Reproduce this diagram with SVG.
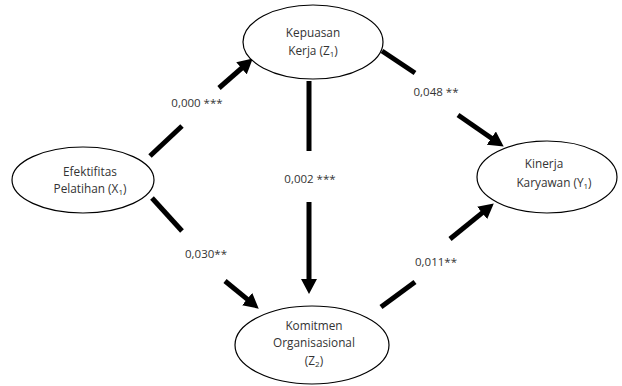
<svg xmlns="http://www.w3.org/2000/svg" width="622" height="386" viewBox="0 0 622 386">
<defs>
<style>
.node ellipse{fill:#fff;stroke:#000;stroke-width:1.2}
text{font-family:"Open Sans","Liberation Sans",sans-serif;font-size:11.8px;fill:#333;text-anchor:middle}
.sub{font-size:8px}
.lbl{font-size:11.5px}
#connectors line{stroke:#000;stroke-width:5;stroke-linecap:butt}
</style>
<marker id="ah" markerUnits="userSpaceOnUse" markerWidth="15" markerHeight="16" viewBox="0 0 15 16" refX="2" refY="8" orient="auto">
<path d="M0,0 L15,8 L0,16 z" fill="#000"/>
</marker>
</defs>
<rect width="622" height="386" fill="#fff"/>
<g id="connectors">
<line x1="150" y1="156" x2="182" y2="126"/>
<line x1="219" y1="88" x2="243" y2="67" marker-end="url(#ah)"/>
<line x1="152" y1="198" x2="182" y2="231"/>
<line x1="225" y1="281" x2="248.7" y2="300.4" marker-end="url(#ah)"/>
<line x1="309" y1="81" x2="309" y2="151"/>
<line x1="309" y1="202" x2="309" y2="281" marker-end="url(#ah)"/>
<line x1="382" y1="51" x2="415" y2="73"/>
<line x1="458" y1="115" x2="493" y2="139.2" marker-end="url(#ah)"/>
<line x1="381" y1="307" x2="415" y2="282"/>
<line x1="450" y1="239" x2="483.7" y2="211.6" marker-end="url(#ah)"/>
</g>
<g id="labels">
<text class="lbl" x="197" y="107">0,000 ***</text>
<text class="lbl" x="206" y="258">0,030**</text>
<text class="lbl" x="310" y="183">0,002 ***</text>
<text class="lbl" x="436" y="96">0,048 **</text>
<text class="lbl" x="436" y="266">0,011**</text>
</g>
<g id="node-z1" class="node">
<ellipse cx="313" cy="42" rx="70" ry="37"/>
<text x="313" y="37">Kepuasan</text>
<text x="313" y="55">Kerja (Z<tspan class="sub" dy="2">1</tspan><tspan dy="-2">)</tspan></text>
</g>
<g id="node-x1" class="node">
<ellipse cx="83" cy="180" rx="71" ry="33"/>
<text x="90" y="176">Efektifitas</text>
<text x="90" y="193">Pelatihan (X<tspan class="sub" dy="2">1</tspan><tspan dy="-2">)</tspan></text>
</g>
<g id="node-y1" class="node">
<ellipse cx="547" cy="177" rx="70" ry="36"/>
<text x="544" y="168">Kinerja</text>
<text x="554" y="187">Karyawan (Y<tspan class="sub" dy="2">1</tspan><tspan dy="-2">)</tspan></text>
</g>
<g id="node-z2" class="node">
<ellipse cx="312" cy="345" rx="77" ry="39"/>
<text x="314" y="330">Komitmen</text>
<text x="314" y="347">Organisasional</text>
<text x="314" y="365">(Z<tspan class="sub" dy="2">2</tspan><tspan dy="-2">)</tspan></text>
</g>
</svg>
